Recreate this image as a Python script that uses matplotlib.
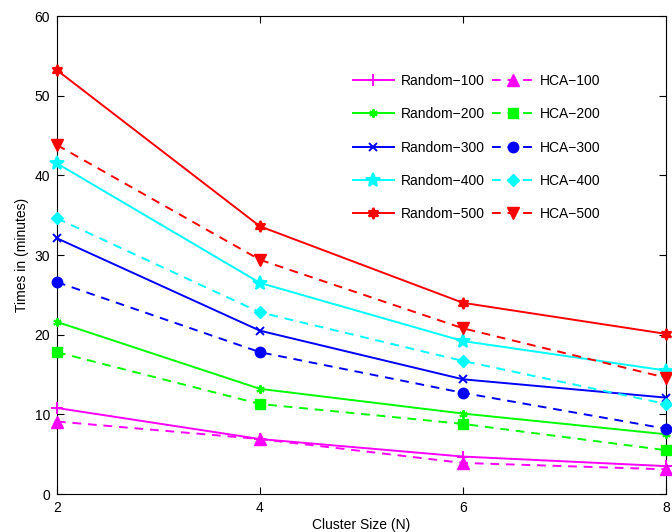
import numpy as np
import matplotlib
matplotlib.use('Agg')
import matplotlib.pyplot as plt

plt.rcParams['font.family'] = ['Liberation Sans', 'DejaVu Sans']

cluster = [2, 4, 6, 8]

random_100 = [10.8, 6.9, 4.7, 3.5]
random_200 = [21.6, 13.2, 10.1, 7.5]
random_300 = [32.1, 20.5, 14.4, 12.1]
random_400 = [41.5, 26.5, 19.2, 15.5]
random_500 = [53.2, 33.6, 24.0, 20.1]

hca_100 = [9.1, 6.9, 3.9, 3.1]
hca_200 = [17.8, 11.3, 8.8, 5.5]
hca_300 = [26.6, 17.8, 12.7, 8.2]
hca_400 = [34.6, 22.8, 16.7, 11.3]
hca_500 = [43.8, 29.4, 20.8, 14.6]

random_labels = ['Random\u2212100', 'Random\u2212200', 'Random\u2212300',
                 'Random\u2212400', 'Random\u2212500']
hca_labels = ['HCA\u2212100', 'HCA\u2212200', 'HCA\u2212300',
              'HCA\u2212400', 'HCA\u2212500']

colors = ['#ff00ff', '#00ff00', '#0000ff', '#00ffff', '#ff0000']
random_markers = ['+', (6, 2, 0), 'x', '*', (6, 1, 0)]
random_ms = [8, 6, 5.5, 10, 8]
hca_markers = ['^', 's', 'o', 'D', 'v']
hca_ms = [8, 7, 7.5, 6, 8]

fig = plt.figure(figsize=(6.72, 5.32), dpi=100)
ax = fig.add_axes([0.0848, 0.0714, 0.9062, 0.8985])

random_series = [random_100, random_200, random_300, random_400, random_500]
hca_series = [hca_100, hca_200, hca_300, hca_400, hca_500]

rnd_handles = []
for ys, c, m, ms, lab in zip(random_series, colors, random_markers,
                             random_ms, random_labels):
    h, = ax.plot(cluster, ys, color=c, lw=1.4, marker=m, ms=ms,
                 mec=c, mfc=c, mew=1.4, label=lab, clip_on=False, zorder=3)
    rnd_handles.append(h)

hca_handles = []
for ys, c, m, ms, lab in zip(hca_series, colors, hca_markers,
                             hca_ms, hca_labels):
    h, = ax.plot(cluster, ys, color=c, lw=1.4, ls=(0, (4.5, 3.5)), marker=m,
                 ms=ms, mec=c, mfc=c, label=lab, clip_on=False, zorder=3)
    hca_handles.append(h)

ax.set_xlim(2, 8)
ax.set_ylim(0, 60)
ax.set_xticks([2, 4, 6, 8])
ax.set_yticks(np.arange(0, 61, 10))
ax.tick_params(direction='in', length=5, width=0.8, labelsize=10,
               top=True, right=True, pad=5)
for s in ax.spines.values():
    s.set_linewidth(0.8)

ax.set_xlabel('Cluster Size (N)', fontsize=10, labelpad=2)
ax.set_ylabel('Times in (minutes)', fontsize=10, labelpad=4)

leg = ax.legend(rnd_handles + hca_handles, random_labels + hca_labels,
                ncol=2, frameon=False, fontsize=10,
                loc='upper left', bbox_to_anchor=(0.465, 0.905),
                handlelength=3.0, labelspacing=1.39, columnspacing=0.55,
                handletextpad=0.45)

fig.savefig('out.png', dpi=100)
